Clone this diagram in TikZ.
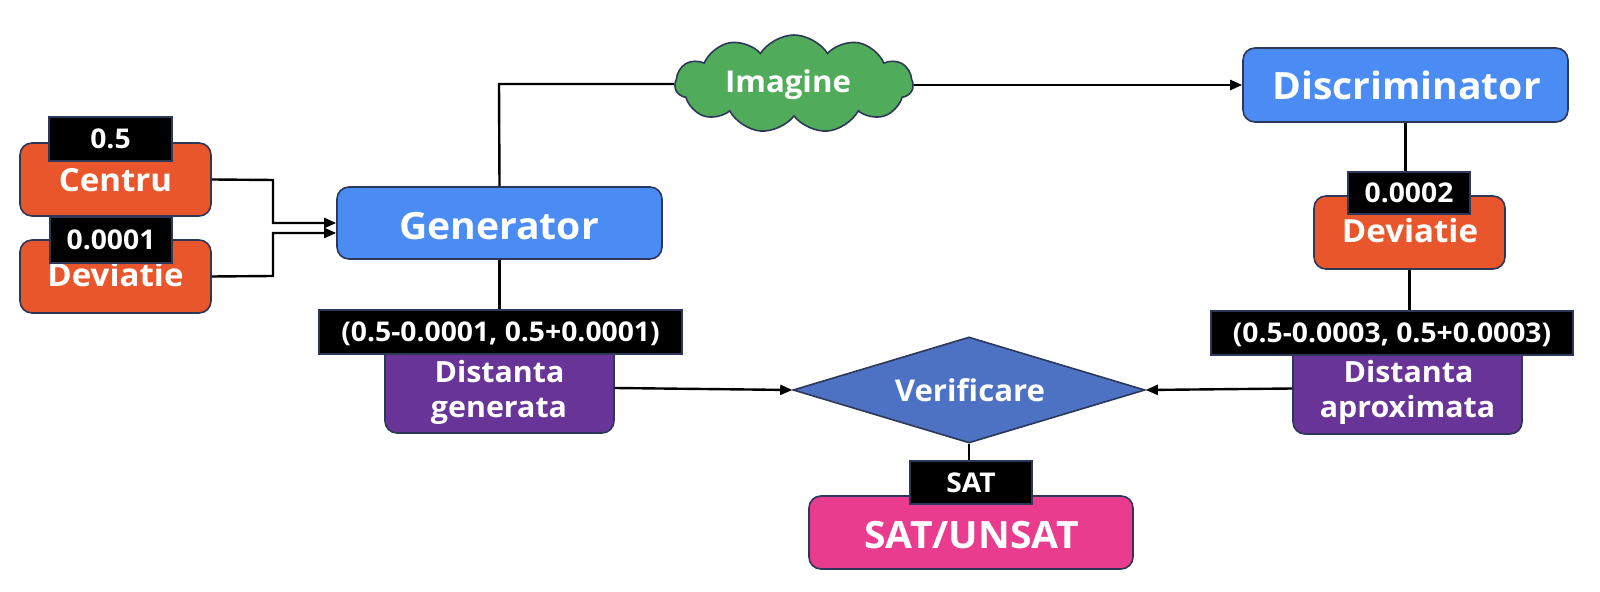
\documentclass[tikz,border=0pt]{standalone}
\usepackage{fontspec}
\setmainfont{Open Sans}[FakeStretch=1.04,Ligatures=NoCommon]
\usetikzlibrary{shapes.geometric,shapes.symbols,arrows.meta}
\definecolor{orng}{HTML}{E9562B}
\definecolor{blu}{HTML}{4A8CF3}
\definecolor{grn}{HTML}{50AC5B}
\definecolor{purp}{HTML}{683498}
\definecolor{dia}{HTML}{4D72C4}
\definecolor{pnk}{HTML}{EA3C8F}
\definecolor{bord}{HTML}{2D3858}
\tikzset{
  box/.style={draw=bord, line width=0.8pt, rounded corners=6pt, inner sep=0pt},
  txt/.style={text=white, inner sep=0pt, anchor=base},
  lab/.style={draw=bord, line width=0.8pt, fill=black, text=white, inner sep=0pt, text depth=0pt,
              font=\fontsize{13.6}{16}\selectfont\bfseries},
  conn/.style={line width=1.2pt, black},
  arr/.style={conn, -{Triangle[length=6pt,width=5pt]}},
  fbig/.style={font=\fontsize{18.8}{22}\selectfont\bfseries},
  fmid/.style={font=\fontsize{15.9}{19}\selectfont\bfseries},
  fsm/.style={font=\fontsize{14.6}{19}\selectfont\bfseries},
  fver/.style={font=\fontsize{15}{18}\selectfont\bfseries},
}
\begin{document}
\begin{tikzpicture}[x=0.5pt,y=-0.5pt]
\useasboundingbox[fill=white] (0,0) rectangle (1600,592);

% boxes
\node[box,fill=orng,minimum width=95.5pt,minimum height=36.5pt] (centru) at (115.5,179.5) {};
\node[txt,fmid] (centruT) at (115.5,192) {Centru};
\node[box,fill=orng,minimum width=95.5pt,minimum height=36.5pt] (devL) at (115.5,276.5) {};
\node[txt,fmid] (devLT) at (115.5,287) {Deviatie};
\node[box,fill=blu,minimum width=162.5pt,minimum height=36pt] (gen) at (499.5,223) {};
\node[txt,fbig] (genT) at (499,240) {Generator};
\node[box,fill=blu,minimum width=162.5pt,minimum height=37pt] (disc) at (1405.5,85) {};
\node[txt,fbig] (discT) at (1406.5,100) {Discriminator};
\node[cloud,cloud puffs=11,cloud puff arc=115,aspect=2.4,draw=bord,line width=0.8pt,fill=grn,
      minimum width=119pt,minimum height=49pt,inner sep=0pt] (cld) at (794,84) {};
\node[txt,fver] (img) at (788,93) {Imagine};
\node[box,fill=orng,minimum width=95.5pt,minimum height=36.5pt] (devR) at (1409.5,232.5) {};
\node[txt,fmid] (devRT) at (1410,243) {Deviatie};
\node[box,fill=purp,minimum width=114.5pt,minimum height=45pt] (distG) at (499.5,388) {};
\node[txt,fsm] (distG1) at (499.5,383) {Distanta};
\node[txt,fsm] (distG2) at (499,418) {generata};
\node[box,fill=purp,minimum width=114.5pt,minimum height=45.5pt] (distA) at (1407.5,388.5) {};
\node[txt,fsm] (distA1) at (1408.5,383) {Distanta};
\node[txt,fsm] (distA2) at (1407.5,418) {aproximata};
\node[diamond,draw=bord,line width=0.8pt,fill=dia,shape aspect=3.3,inner sep=0pt,
      minimum width=176pt,minimum height=53pt] (ver) at (969,390) {};
\node[txt,fver] (verT) at (970,402) {Verificare};
\node[box,fill=pnk,minimum width=162pt,minimum height=36.5pt] (sat) at (971,532.5) {};
\node[txt,fbig] (satT) at (971.5,548) {SAT/UNSAT};

% black labels
\node[lab,minimum width=61.5pt,minimum height=22pt] (l05) at (110.5,139) {0.5};
\node[lab,minimum width=61pt,minimum height=23pt] (l0001) at (111,240) {0.0001};
\node[lab,minimum width=61pt,minimum height=21pt] (l0002) at (1409,193) {0.0002};
\node[lab,minimum width=181.5pt,minimum height=22pt] (lG) at (500.5,332) {(0.5-0.0001, 0.5+0.0001)};
\node[lab,minimum width=181pt,minimum height=22pt] (lA) at (1392,333) {(0.5-0.0003, 0.5+0.0003)};
\node[lab,minimum width=61pt,minimum height=21.5pt] (lsat) at (971,482.5) {SAT};

% connectors
\coordinate (j1) at (273,180);
\coordinate (j2) at (273,276);
\coordinate (gtop) at (499,84);
\draw[arr] (centru.east) -- (j1) |- (gen.west);
\draw[arr] (devL.east) -- (j2) |- ([yshift=-5pt]gen.west);
\draw[conn] (gen.north) -- (gtop) -- (cld.west);
\draw[arr] (cld.east |- disc.west) -- (disc.west);
\draw[conn] (disc.south) -- (disc.south |- l0002.north);
\draw[conn] (devR.south) -- (devR.south |- lA.north);
\draw[conn] (gen.south) -- (gen.south |- lG.north);
\draw[arr] (distG.east) -- (ver.west);
\draw[arr] (distA.west) -- (ver.east);
\draw[conn] (ver.south) -- (ver.south |- lsat.north);
\end{tikzpicture}
\end{document}
